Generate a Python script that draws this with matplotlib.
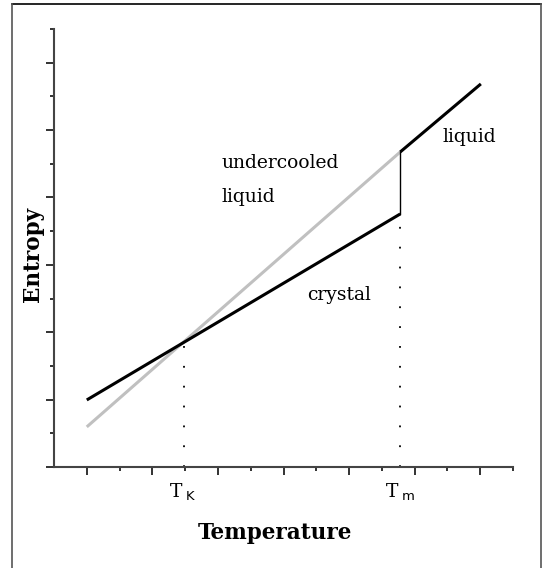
import numpy as np
import matplotlib.pyplot as plt
from matplotlib.lines import Line2D

# Data (axis units: x one minor tick = 1, y one minor tick = 1)
tk = 3.96
tm = 10.56
crystal_x = [1.0, tm]
crystal_y = [1.99, 7.51]
undercooled_x = [1.0, tm]
undercooled_y = [1.19, 9.35]
liquid_x = [tm, 13.02]
liquid_y = [9.35, 11.37]
tk_cross_y = 3.72

xtick_pos = [tk, tm]
xtick_main = ['T', 'T']
xtick_sub = ['K', 'm']

fig = plt.figure(figsize=(5.47, 5.68), dpi=100)
ax = fig.add_axes([54 / 547, 1 - 467 / 568, (513 - 54) / 547, (467 - 29) / 568])

# Figure border (top, left, right)
W, H = 547.0, 568.0
fig.add_artist(Line2D([12 / W, 541 / W], [1 - 4 / H, 1 - 4 / H], color='black', lw=1.2, transform=fig.transFigure))
fig.add_artist(Line2D([12 / W, 12 / W], [0, 1 - 4 / H], color='#555555', lw=1.2, transform=fig.transFigure))
fig.add_artist(Line2D([541 / W, 541 / W], [0, 1 - 4 / H], color='#555555', lw=1.2, transform=fig.transFigure))

# Lines
ax.plot(undercooled_x, undercooled_y, color='#c0c0c0', lw=2.2, solid_capstyle='butt')
ax.plot(crystal_x, crystal_y, color='black', lw=2.2, solid_capstyle='butt')
ax.plot(liquid_x, liquid_y, color='black', lw=2.2, solid_capstyle='butt')
ax.plot([tm, tm], [crystal_y[1], liquid_y[0]], color='black', lw=1.0)

# Dotted drop lines
ax.plot([tk, tk], [0, tk_cross_y], color='black', lw=1.3, linestyle=(0, (1, 10)))
ax.plot([tm, tm], [0, crystal_y[1]], color='black', lw=1.3, linestyle=(0, (1, 10)))

ax.set_xlim(0, 14)
ax.set_ylim(0, 13)

for s in ['top', 'right']:
    ax.spines[s].set_visible(False)
for s in ['left', 'bottom']:
    ax.spines[s].set_color('#444444')
    ax.spines[s].set_linewidth(1.5)

ax.set_xticks(np.arange(1, 14, 2))
ax.set_xticks(np.arange(2, 15, 2), minor=True)
ax.set_yticks(np.arange(0, 13, 2))
ax.set_yticks(np.arange(1, 14, 2), minor=True)
ax.tick_params(which='major', length=6, width=1.3, color='#222222', labelbottom=False, labelleft=False)
ax.tick_params(which='minor', length=3, width=1.3, color='#222222')

serif = 'DejaVu Serif'

# T_K and T_m labels
for xp, m, sub in zip(xtick_pos, xtick_main, xtick_sub):
    ax.text(xp - 0.05, -0.88, m, ha='right', va='baseline', fontsize=13.5, family=serif, clip_on=False)
    ax.text(xp + 0.05, -0.97, sub, ha='left', va='baseline', fontsize=9.5, family='DejaVu Sans', clip_on=False)

# Curve labels
ax.text(5.1, 8.86, 'undercooled', fontsize=13.5, family=serif)
ax.text(5.1, 7.88, 'liquid', fontsize=13.5, family=serif)
ax.text(7.72, 4.95, 'crystal', fontsize=13.5, family=serif)
ax.text(11.85, 9.65, 'liquid', fontsize=13.5, family=serif)

fig.text(274.5 / W, 1 - 533 / H, 'Temperature', ha='center', va='center', fontsize=15.5, fontweight='bold', family=serif)
fig.text(33 / W, 1 - 254 / H, 'Entropy', ha='center', va='center', rotation=90, fontsize=15.5, fontweight='bold', family=serif)

fig.savefig('out.png', dpi=100)
